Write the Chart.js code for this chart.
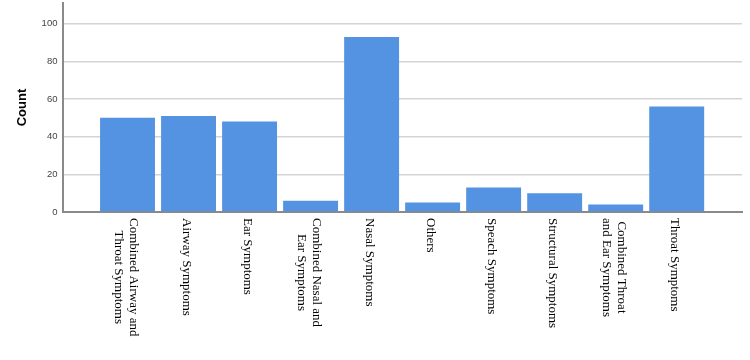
<!DOCTYPE html>
<html>
  <head>
    <meta charset="UTF-8" />
    <title>Symptom Counts</title>
    <script src="https://cdn.jsdelivr.net/npm/chart.js"></script>
    <style>
      body { margin: 0; background: #fff; }
      #myChart { display: block; }
    </style>
  </head>
  <body>
    <canvas id="myChart" width="750" height="360"></canvas>
    <script>
      // categories, split into the lines shown under each bar
      const categories = [
        ['Combined Airway and', 'Throat Symptoms'],
        ['Airway Symptoms'],
        ['Ear Symptoms'],
        ['Combined Nasal and', 'Ear Symptoms'],
        ['Nasal Symptoms'],
        ['Others'],
        ['Speach Symptoms'],
        ['Structural Symptoms'],
        ['Combined Throat', 'and Ear Symptoms'],
        ['Throat Symptoms']
      ];
      const counts = [50, 51, 48, 6, 93, 5, 13, 10, 4, 56];
      const yTicks = [0, 20, 40, 60, 80, 100];

      // vertical labels, read top to bottom, under each bar
      const verticalLabels = {
        id: 'verticalLabels',
        afterDraw(chart) {
          const ctx = chart.ctx;
          const xs = chart.scales.x;
          const top = chart.chartArea.bottom + 6;
          ctx.save();
          ctx.font = '13px "Liberation Serif", "Times New Roman", serif';
          ctx.fillStyle = '#000';
          ctx.textBaseline = 'middle';
          ctx.textAlign = 'center';
          const lineH = 15;
          categories.forEach((lines, i) => {
            const x = xs.getPixelForValue(i);
            const w = Math.max(...lines.map(l => ctx.measureText(l).width));
            ctx.save();
            ctx.translate(x, top);
            ctx.rotate(Math.PI / 2);
            lines.forEach((l, j) => {
              const yl = (j - (lines.length - 1) / 2) * lineH + 2;
              ctx.fillText(l, w / 2, yl);
            });
            ctx.restore();
          });
          ctx.restore();
        }
      };

      const ctx = document.getElementById('myChart').getContext('2d');
      new Chart(ctx, {
        type: 'bar',
        data: {
          datasets: [{
            label: 'Count',
            data: counts.map((v, i) => ({ x: i, y: v })),
            backgroundColor: '#5393e2',
            borderWidth: 0,
            barPercentage: 0.9,
            categoryPercentage: 1
          }]
        },
        options: {
          responsive: false,
          animation: false,
          layout: { padding: { top: 3, right: 8, bottom: 148, left: 5 } },
          plugins: {
            legend: { display: false },
            tooltip: { enabled: false }
          },
          scales: {
            x: {
              type: 'linear',
              bounds: 'data',
              offset: false,
              min: -1.05,
              max: 10.07,
              afterBuildTicks: scale => {
                scale.ticks = categories.map((c, i) => ({ value: i }));
                scale.min = -1.05;
                scale.max = 10.07;
              },
              grid: { display: false, drawTicks: false },
              ticks: { display: false },
              border: { display: true, color: '#8a8a8a', width: 2 }
            },
            y: {
              min: 0,
              max: 111,
              afterBuildTicks: scale => {
                scale.ticks = yTicks.map(v => ({ value: v }));
              },
              afterFit: scale => {
                scale.paddingTop = 0;
                scale.paddingBottom = 0;
              },
              grid: { color: '#d4d4d4', lineWidth: 1.5, drawTicks: false },
              border: { display: true, color: '#8a8a8a', width: 2 },
              ticks: {
                padding: 6,
                color: '#444',
                font: { family: 'Arial, "Liberation Sans", sans-serif', size: 9.5 }
              },
              title: {
                display: true,
                text: 'Count',
                color: '#000',
                padding: { top: 10, bottom: 5 },
                font: { family: 'Arial, "Liberation Sans", sans-serif', size: 13, weight: 'bold' }
              }
            }
          }
        },
        plugins: [verticalLabels]
      });
    </script>
  </body>
</html>
